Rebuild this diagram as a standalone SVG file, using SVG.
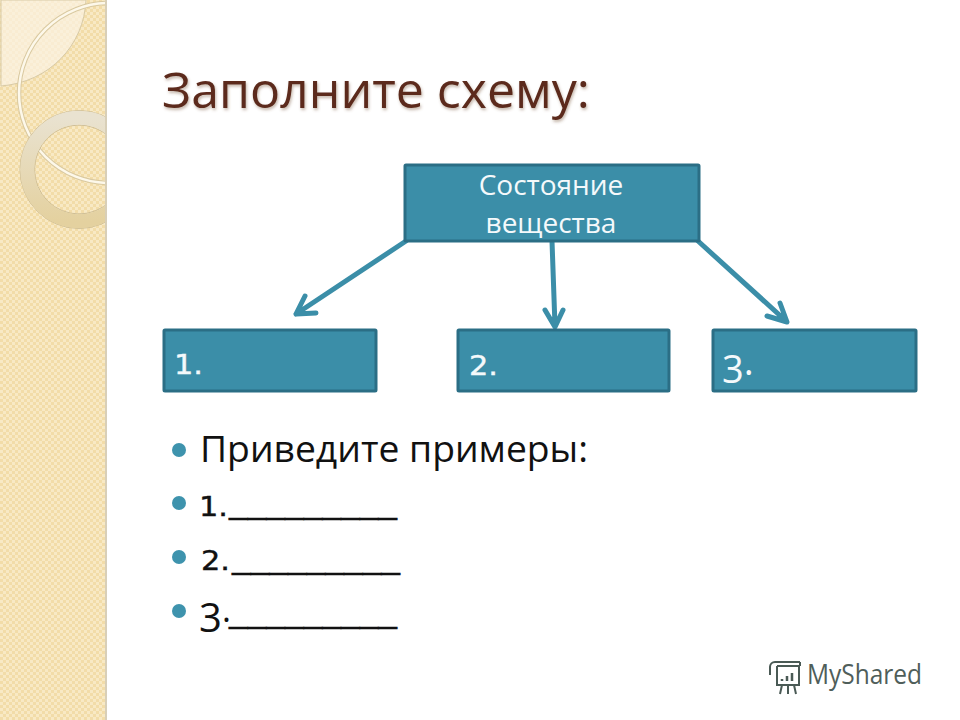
<svg xmlns="http://www.w3.org/2000/svg" width="960" height="720" viewBox="0 0 960 720">
<style>
.box{fill:#3b8ea8;stroke:#2b6e85;stroke-width:3}
.lbl{font-family:"Open Sans","Noto Sans",sans-serif;fill:#f4f9fb}
.dig{font-family:"DejaVu Sans",sans-serif;fill:#f4f9fb;stroke:#f4f9fb;stroke-width:.4}
.body{font-family:"Open Sans","Noto Sans",sans-serif;fill:#111}
.num{font-family:"DejaVu Sans",sans-serif;fill:#111;stroke:#111;stroke-width:.4}
.arrow{fill:none;stroke:#3b8ea8;stroke-width:5;stroke-linecap:round;stroke-linejoin:round}
.bullet{fill:#3e93ad}
</style>
<defs>
<pattern id="weave" width="6" height="6" patternUnits="userSpaceOnUse">
<rect width="6" height="6" fill="#f2dca8"/>
<rect width="3" height="3" fill="#f8e9c4"/>
<rect x="3" y="3" width="3" height="3" fill="#f8e9c4"/>
</pattern>
<linearGradient id="ring" x1="0" y1="0" x2="0" y2="1">
<stop offset="0" stop-color="#e9e2d0"/>
<stop offset="1" stop-color="#e4d19f"/>
</linearGradient>
<filter id="ts" x="-5%" y="-20%" width="110%" height="150%"><feDropShadow dx="1" dy="2" stdDeviation="1.5" flood-color="#7a5a40" flood-opacity="0.45"/></filter>
<clipPath id="band"><rect width="106" height="720"/></clipPath>
</defs>
<rect width="960" height="720" fill="#fff"/>
<g id="sidebar" clip-path="url(#band)">
<rect width="106" height="720" fill="url(#weave)"/>
<path d="M1 0H86C84 45 50 82 1 86Z" fill="#fbf3e2" fill-opacity=".72" stroke="#d8caa6" stroke-width="1"/>
<circle cx="109" cy="93" r="90" fill="none" stroke="#d9c9a0" stroke-width="4.5"/>
<circle cx="109" cy="93" r="90" fill="none" stroke="#fdf8ea" stroke-width="2.5"/>
<circle cx="79" cy="169.5" r="59" fill="none" stroke="#cdbd95" stroke-width="1"/>
<circle cx="79" cy="169.5" r="44.500" fill="none" stroke="#cdbd95" stroke-width="1"/>
<circle cx="79" cy="169.5" r="51.700" fill="none" stroke="url(#ring)" stroke-width="14"/>
</g>
<rect x="105" y="0" width="2" height="720" fill="#d8cfb8"/>
<text id="title" x="162" y="108" font-family="'Open Sans','Noto Sans',sans-serif" font-size="50" fill="#5c2a1c" filter="url(#ts)" textLength="428" lengthAdjust="spacingAndGlyphs">Заполните схему:</text>
<g id="connectors">
<path class="arrow" d="M406 241L296 314M316 313L296 314L305 296"/>
<path class="arrow" d="M552 241L555 326M545 310L555 327L563 310"/>
<path class="arrow" d="M698 241L786 321M767 316L787 322L780 303"/>
</g>
<g id="node-root">
<rect class="box" x="405" y="165" width="294" height="76" rx="1"/>
<text class="lbl" x="551" y="195" font-size="28" text-anchor="middle">Состояние</text>
<text class="lbl" x="551" y="233" font-size="28" text-anchor="middle">вещества</text>
</g>
<g id="node-1">
<rect class="box" x="164" y="330" width="212" height="61" rx="1"/>
<text class="dig" x="174" y="374" font-size="27" textLength="29" lengthAdjust="spacingAndGlyphs">1.</text>
</g>
<g id="node-2">
<rect class="box" x="458" y="330" width="211" height="61" rx="1"/>
<text class="dig" x="469" y="375" font-size="27" textLength="29" lengthAdjust="spacingAndGlyphs">2.</text>
</g>
<g id="node-3">
<rect class="box" x="713" y="330" width="203" height="61" rx="1"/>
<text class="lbl" x="722" y="383" font-size="38">3<tspan dy="-8">.</tspan></text>
</g>
<g id="list">
<circle class="bullet" cx="179" cy="450" r="7"/>
<text class="body" x="200" y="462" font-size="37" textLength="388" lengthAdjust="spacingAndGlyphs">Приведите примеры:</text>
<circle class="bullet" cx="179" cy="503" r="7"/>
<text class="num" x="199" y="516" font-size="26" textLength="29" lengthAdjust="spacingAndGlyphs">1.</text>
<text class="num" x="229" y="513" font-size="29" textLength="168" lengthAdjust="spacingAndGlyphs">_________</text>
<circle class="bullet" cx="179" cy="557" r="7"/>
<text class="num" x="201" y="570" font-size="26" textLength="29" lengthAdjust="spacingAndGlyphs">2.</text>
<text class="num" x="232" y="568" font-size="29" textLength="168" lengthAdjust="spacingAndGlyphs">_________</text>
<circle class="bullet" cx="179" cy="611" r="7"/>
<text class="body" x="199" y="632" font-size="40">3<tspan dy="-10" font-size="34">.</tspan></text>
<text class="num" x="229" y="622" font-size="29" textLength="168" lengthAdjust="spacingAndGlyphs">_________</text>
</g>
<g id="logo" fill="none" stroke="#4a5a55" stroke-width="2">
<path d="M775 662H800M775 662a5 5 0 0 0-5 5V675M777 666H799V685H777V666M800 662v4M782 685l-2 9M788 685v9M794 685l2 9"/>
<path d="M782 681v-2M787 681v-5M792 681v-8" stroke-width="2.5"/>
<text x="807" y="684" font-family="'Open Sans','Noto Sans',sans-serif" font-size="28" fill="#4f5e5a" stroke="none" textLength="115" lengthAdjust="spacingAndGlyphs">MyShared</text>
</g>
</svg>
